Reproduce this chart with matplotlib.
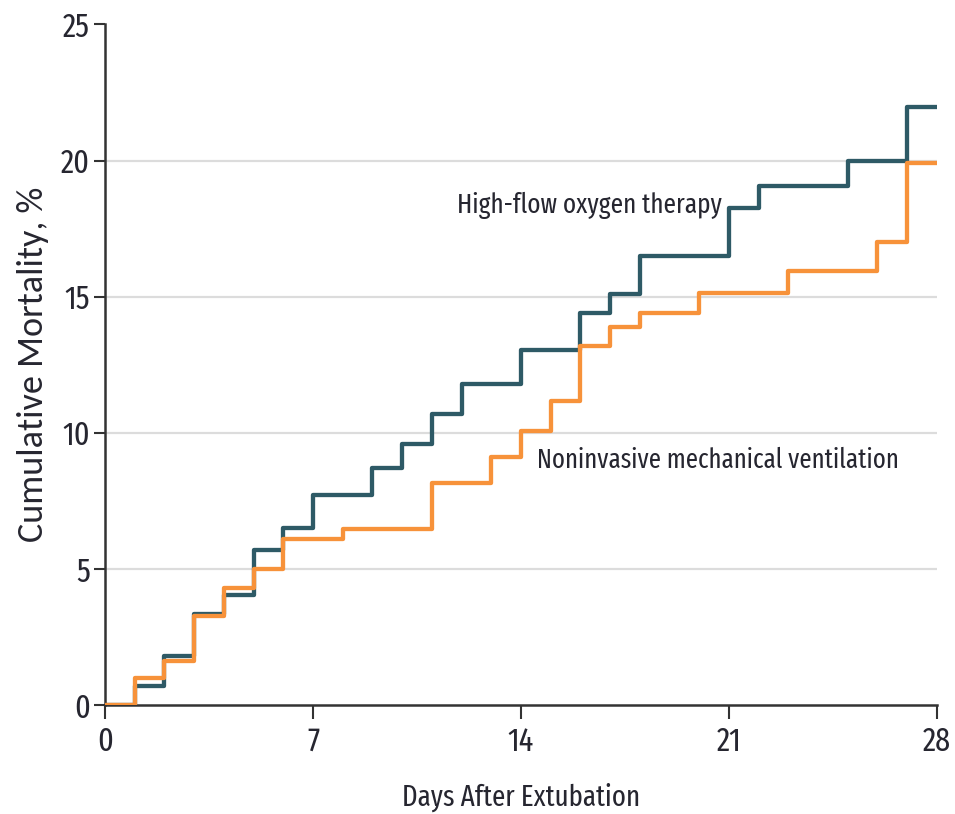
import numpy as np
import matplotlib
matplotlib.use("Agg")
from matplotlib import pyplot as plt


# Kaplan-Meier style cumulative mortality, in % (step changes at each day)
hfot_days = [0, 1, 2, 3, 4, 5, 6, 7, 9, 10, 11, 12, 14, 16, 17, 18, 21, 22, 25, 27, 28]
hfot_mort = [0, 0.7, 1.8, 3.35, 4.05, 5.7, 6.5, 7.7, 8.7, 9.6, 10.7, 11.8, 13.05,
             14.4, 15.1, 16.5, 18.25, 19.05, 20.0, 21.95, 21.95]

niv_days = [0, 1, 2, 3, 4, 5, 6, 8, 11, 13, 14, 15, 16, 17, 18, 20, 23, 26, 27, 28]
niv_mort = [0, 1.0, 1.6, 3.25, 4.3, 5.0, 6.1, 6.45, 8.15, 9.1, 10.05, 11.15, 13.2,
            13.9, 14.4, 15.15, 15.95, 17.0, 19.9, 19.9]

x_ticks = [0, 7, 14, 21, 28]
y_ticks = [0, 5, 10, 15, 20, 25]

DARK   = "#2e5a66"
ORANGE = "#f7923a"
TEXT   = "#262630"
NARROW = ["Fira Sans Extra Condensed", "DejaVu Sans"]
CALIB  = ["Carlito", "DejaVu Sans"]

fig = plt.figure(figsize=(9.55, 8.14), dpi=100)
ax = fig.add_axes([0.110, 0.134, 0.871, 0.836])

ax.step(hfot_days, hfot_mort, where="post", color=DARK, lw=3.1, zorder=3)
ax.step(niv_days, niv_mort, where="post", color=ORANGE, lw=3.1, zorder=4)

ax.set_xlim(0, 28)
ax.set_ylim(0, 25)
ax.set_xticks(x_ticks)
ax.set_yticks(y_ticks)

# light horizontal reference lines
for y in y_ticks[1:-1]:
    ax.axhline(y, color="#dcdcdc", lw=1.6, zorder=1)

for side in ["top", "right"]:
    ax.spines[side].set_visible(False)
for side in ["left", "bottom"]:
    ax.spines[side].set_color("#333333")
    ax.spines[side].set_linewidth(1.8)

ax.tick_params(axis="x", direction="out", length=10, width=1.5, color="#333333",
               pad=5, labelcolor=TEXT)
ax.tick_params(axis="y", direction="out", length=8, width=1.5, color="#333333",
               pad=3, labelcolor=TEXT)
for lbl in ax.get_xticklabels() + ax.get_yticklabels():
    lbl.set_family(NARROW)
    lbl.set_fontsize(23.5)

ax.set_xlabel("Days After Extubation", family=NARROW, fontsize=21, color=TEXT,
              labelpad=18)
ax.set_ylabel("Cumulative Mortality, %", family=CALIB, fontsize=26, color=TEXT,
              va="center")
ax.yaxis.set_label_coords(-0.0865, 0.5)

ax.text(20.75, 18.35, "High-flow oxygen therapy", family=NARROW, fontsize=19.7,
        color=TEXT, ha="right", va="center")
ax.text(14.55, 9.0, "Noninvasive mechanical ventilation", family=NARROW,
        fontsize=19.4, color=TEXT, ha="left", va="center")

fig.savefig("out.png", dpi=100)
